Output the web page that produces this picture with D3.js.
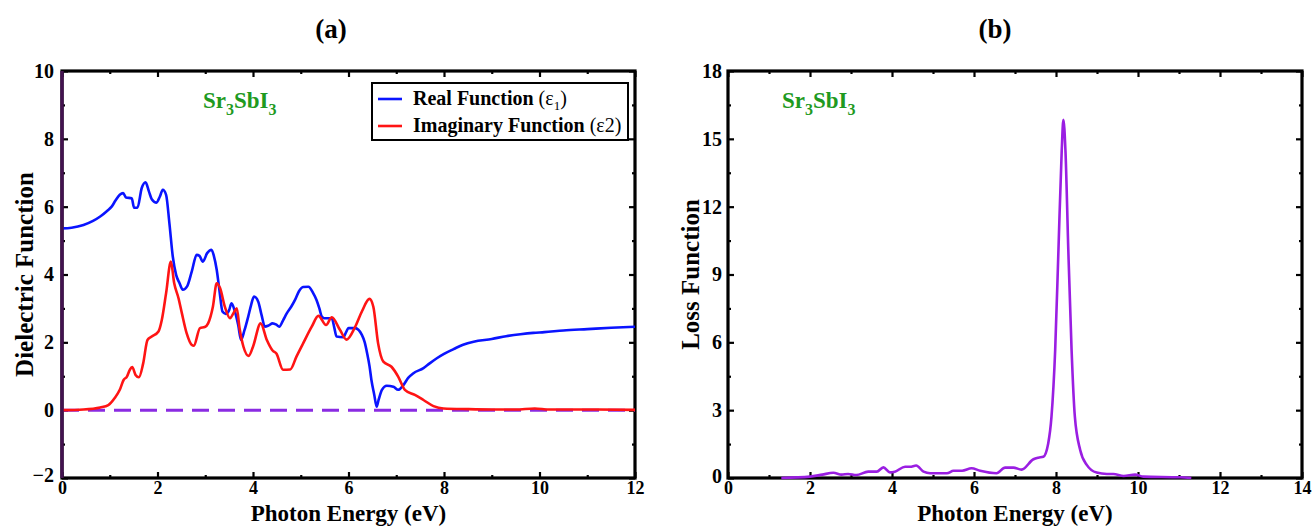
<!DOCTYPE html>
<html><head><meta charset="utf-8">
<script src="https://cdn.jsdelivr.net/npm/d3@7"></script>
<style>
html,body{margin:0;padding:0;background:#fff;}
svg{display:block;}
text{font-family:"Liberation Serif","Times New Roman",serif;font-weight:bold;fill:#000;}
</style></head>
<body>
<svg id="chart" width="1314" height="527"></svg>
<script>
// ---------- DATA ----------
const realEnergy = [0,0.2,0.45,0.65,0.8,0.95,1.04,1.12,1.21,1.28,1.34,1.46,1.51,1.58,1.67,1.75,1.82,1.88,1.98,2.05,2.11,2.18,2.25,2.32,2.39,2.46,2.53,2.62,2.72,2.82,2.88,2.95,3.04,3.13,3.18,3.24,3.30,3.36,3.43,3.50,3.55,3.62,3.69,3.75,3.82,3.90,3.96,4.02,4.11,4.18,4.25,4.33,4.41,4.49,4.55,4.63,4.71,4.80,4.88,4.96,5.05,5.16,5.26,5.33,5.39,5.44,5.49,5.65,5.70,5.75,5.89,5.95,6.00,6.14,6.28,6.34,6.39,6.44,6.48,6.54,6.59,6.63,6.70,6.80,6.94,7.04,7.15,7.25,7.36,7.57,7.70,7.85,8.0,8.2,8.4,8.62,9.0,9.3,9.6,9.87,10.1,10.5,11.0,11.5,12.0];
const realValues = [5.36,5.38,5.46,5.58,5.71,5.88,6.0,6.18,6.35,6.40,6.27,6.25,5.97,5.97,6.55,6.72,6.45,6.22,6.12,6.3,6.5,6.35,5.5,4.53,3.99,3.75,3.55,3.65,4.1,4.58,4.55,4.38,4.63,4.73,4.55,4.14,3.5,2.91,2.84,2.95,3.15,2.91,2.51,2.07,2.35,2.76,3.1,3.35,3.2,2.8,2.46,2.5,2.56,2.52,2.46,2.65,2.86,3.05,3.25,3.5,3.63,3.64,3.45,3.25,3.0,2.76,2.71,2.71,2.45,2.17,2.15,2.3,2.42,2.42,2.22,2.0,1.68,1.3,0.89,0.45,0.10,0.3,0.6,0.72,0.69,0.6,0.74,0.95,1.09,1.24,1.38,1.53,1.66,1.80,1.93,2.02,2.10,2.18,2.24,2.28,2.3,2.35,2.39,2.43,2.46];

const imagEnergy = [0,0.45,0.8,0.97,1.1,1.21,1.29,1.36,1.42,1.47,1.54,1.61,1.70,1.79,1.88,2.02,2.09,2.18,2.28,2.35,2.44,2.51,2.61,2.72,2.76,2.89,2.99,3.06,3.16,3.24,3.31,3.41,3.52,3.59,3.66,3.72,3.80,3.91,4.0,4.16,4.29,4.41,4.49,4.63,4.78,4.91,5.05,5.23,5.37,5.53,5.65,5.82,5.96,6.14,6.28,6.44,6.52,6.62,6.73,6.90,7.04,7.18,7.39,7.57,7.78,7.99,8.5,9.0,9.5,9.9,10.2,11,12];
const imagValues = [0.0,0.02,0.08,0.15,0.35,0.6,0.89,0.99,1.19,1.27,1.04,0.97,1.38,2.07,2.17,2.32,2.66,3.45,4.38,3.74,3.3,2.86,2.27,1.92,1.9,2.42,2.45,2.56,3.05,3.74,3.6,3.05,2.71,2.86,3.0,2.4,1.87,1.6,1.87,2.56,2.07,1.76,1.67,1.19,1.2,1.58,1.97,2.46,2.78,2.51,2.74,2.37,2.08,2.46,2.91,3.28,3.05,1.97,1.43,1.28,0.99,0.6,0.45,0.3,0.12,0.05,0.03,0.02,0.02,0.05,0.02,0.02,0.01];

const lossEnergy = [1.3,2.0,2.3,2.57,2.77,2.93,3.13,3.42,3.63,3.79,3.95,4.07,4.32,4.44,4.59,4.77,4.93,5.34,5.5,5.71,5.94,6.15,6.55,6.76,6.96,7.16,7.45,7.57,7.69,7.81,7.89,7.98,8.06,8.14,8.18,8.23,8.30,8.38,8.46,8.59,8.75,8.99,9.24,9.4,9.65,9.93,10.13,11.02,11.3];
const lossValues = [0.0,0.06,0.15,0.23,0.15,0.18,0.13,0.28,0.28,0.47,0.25,0.28,0.5,0.5,0.55,0.28,0.21,0.21,0.32,0.32,0.43,0.32,0.21,0.46,0.46,0.37,0.83,0.9,0.94,1.53,2.71,5.66,10.1,14.5,15.84,14.5,10.1,5.66,2.71,1.24,0.58,0.24,0.18,0.18,0.09,0.15,0.06,0.03,0.0];

const zeroLine = [[0,0],[12,0]];

const xTicksA = [0,2,4,6,8,10,12];
const yTicksA = [-2,0,2,4,6,8,10];
const xTicksB = [0,2,4,6,8,10,12,14];
const yTicksB = [0,3,6,9,12,15,18];

const panelTitles = ["(a)","(b)"];
const xTitle = "Photon Energy (eV)";
const yTitleA = "Dielectric Function";
const yTitleB = "Loss Function";
const legendLabels = ["Real Function", "Imaginary Function"];

// ---------- DRAW ----------
const svg = d3.select("#chart");
const FONT = '"Liberation Serif","Times New Roman",serif';

function drawPanel(o) {
  const x = d3.scaleLinear().domain(o.xDomain).range([o.left, o.right]);
  const y = d3.scaleLinear().domain(o.yDomain).range([o.bottom, o.top]);
  const g = svg.append("g");

  const minorX = d3.range(o.xDomain[0] + o.xMinor, o.xDomain[1], o.xMinor * 2);
  const minorY = d3.range(o.yDomain[0] + o.yMinor, o.yDomain[1], o.yMinor * 2);

  const mk = (axisFn, scale, vals, tx, ty, size) => {
    const a = g.append("g").attr("transform", `translate(${tx},${ty})`)
      .call(axisFn(scale).tickValues(vals).tickSize(size).tickFormat(""));
    a.select(".domain").remove();
    a.selectAll("line").attr("stroke", "#000").attr("stroke-width", 2.2);
    return a;
  };
  const inner = 6, minor = 3;
  mk(d3.axisBottom, x, minorX, 0, o.bottom, -minor);
  mk(d3.axisTop, x, minorX, 0, o.top, -minor);
  mk(d3.axisLeft, y, minorY, o.left, 0, -minor);
  mk(d3.axisRight, y, minorY, o.right, 0, -minor);
  mk(d3.axisTop, x, o.xTicks, 0, o.top, -inner);
  mk(d3.axisRight, y, o.yTicks, o.right, 0, -inner);

  const xb = g.append("g").attr("transform", `translate(0,${o.bottom})`)
    .call(d3.axisBottom(x).tickValues(o.xTicks).tickSize(-inner).tickPadding(3).tickFormat(d3.format("d")));
  xb.select(".domain").remove();
  xb.selectAll("line").attr("stroke", "#000").attr("stroke-width", 2.2);
  xb.selectAll("text").attr("font-family", FONT).attr("font-weight", "bold")
    .attr("font-size", 18).attr("fill", "#000").attr("dy", "0.71em");

  const yl = g.append("g").attr("transform", `translate(${o.left},0)`)
    .call(d3.axisLeft(y).tickValues(o.yTicks).tickSize(-inner).tickPadding(o.yPad).tickFormat(d3.format("d")));
  yl.select(".domain").remove();
  yl.selectAll("line").attr("stroke", "#000").attr("stroke-width", 2.2);
  yl.selectAll("text").attr("font-family", FONT).attr("font-weight", "bold")
    .attr("font-size", 20).attr("fill", "#000");
  yl.selectAll(".tick").filter(d => d === o.yDomain[0]).select("text").attr("dy", o.yBottomDy);

  g.append("rect").attr("x", o.left).attr("y", o.top)
    .attr("width", o.right - o.left).attr("height", o.bottom - o.top)
    .attr("fill", "none").attr("stroke", "#000").attr("stroke-width", 3.2);

  o.series.forEach(s => {
    const line = d3.line().x(d => x(d[0])).y(d => y(d[1])).curve(s.curve || d3.curveMonotoneX);
    g.append("path").datum(s.data).attr("d", line)
      .attr("fill", "none").attr("stroke", s.color).attr("stroke-width", s.width || 2.6)
      .attr("stroke-dasharray", s.dash || null).attr("stroke-linejoin", "round");
  });

  if (o.leftSpine) {
    g.append("line").attr("x1", o.left).attr("x2", o.left).attr("y1", o.top).attr("y2", o.bottom)
      .attr("stroke", o.leftSpine).attr("stroke-width", 3.4);
  }

  svg.append("text").attr("x", o.titleX).attr("y", 38).attr("text-anchor", "middle")
    .attr("font-size", 27).text(o.title);
  svg.append("text").attr("x", (o.left + o.right) / 2).attr("y", 521).attr("text-anchor", "middle")
    .attr("font-size", 23).text(xTitle);
  svg.append("text").attr("transform", `translate(${o.yTitleX},${(o.top + o.bottom) / 2}) rotate(-90)`)
    .attr("text-anchor", "middle").attr("font-size", 25).text(o.yTitle);

  const lab = svg.append("text").attr("x", o.left + o.labelDx).attr("y", 108)
    .attr("font-size", 23).style("fill", "#1f9a1f");
  lab.append("tspan").text("Sr");
  lab.append("tspan").attr("font-size", 16).attr("dy", 7).text("3");
  lab.append("tspan").attr("dy", -7).text("SbI");
  lab.append("tspan").attr("font-size", 16).attr("dy", 7).text("3");

  return {x, y, g};
}

const toPts = (xs, ys) => xs.map((e, i) => [e, ys[i]]);

drawPanel({
  xDomain: [0, 12], yDomain: [-2, 10], xMinor: 1, yMinor: 1,
  xTicks: xTicksA, yTicks: yTicksA,
  left: 62, right: 635, top: 71, bottom: 478, yPad: 8, yBottomDy: "0.15em",
  title: panelTitles[0], titleX: 331, yTitle: yTitleA, yTitleX: 33, labelDx: 141,
  leftSpine: "#43124f",
  series: [
    {data: zeroLine, color: "#8a2be2", dash: "17,9", width: 3, curve: d3.curveLinear},
    {data: toPts(realEnergy, realValues), color: "#0a14ff"},
    {data: toPts(imagEnergy, imagValues), color: "#ff1414"}
  ]
});

drawPanel({
  xDomain: [0, 14], yDomain: [0, 18], xMinor: 1, yMinor: 1.5,
  xTicks: xTicksB, yTicks: yTicksB,
  left: 728, right: 1302, top: 71, bottom: 478, yPad: 6, yBottomDy: "0.2em",
  title: panelTitles[1], titleX: 995, yTitle: yTitleB, yTitleX: 699, labelDx: 54,
  series: [
    {data: toPts(lossEnergy, lossValues), color: "#9a1ee2", width: 2.6, curve: d3.curveMonotoneX}
  ]
});

const leg = svg.append("g");
leg.append("rect").attr("x", 372).attr("y", 83).attr("width", 256).attr("height", 57)
  .attr("fill", "#fff").attr("stroke", "#000").attr("stroke-width", 2);
const legColors = ["#0a14ff", "#ff1414"];
const legY = [99, 126];
legendLabels.forEach((lbl, i) => {
  leg.append("line").attr("x1", 378).attr("x2", 402).attr("y1", legY[i]).attr("y2", legY[i])
    .attr("stroke", legColors[i]).attr("stroke-width", 2.6);
  const t = leg.append("text").attr("x", 413).attr("y", legY[i] + 6).attr("font-size", 20);
  t.append("tspan").text(lbl + " ");
  if (i === 0) {
    t.append("tspan").attr("font-weight", "normal").text("(ε");
    t.append("tspan").attr("font-weight", "normal").attr("font-size", 13).attr("dy", 5).text("1");
    t.append("tspan").attr("font-weight", "normal").attr("dy", -5).text(")");
  } else {
    t.append("tspan").attr("font-weight", "normal").text("(ε2)");
  }
});
</script>
</body></html>
